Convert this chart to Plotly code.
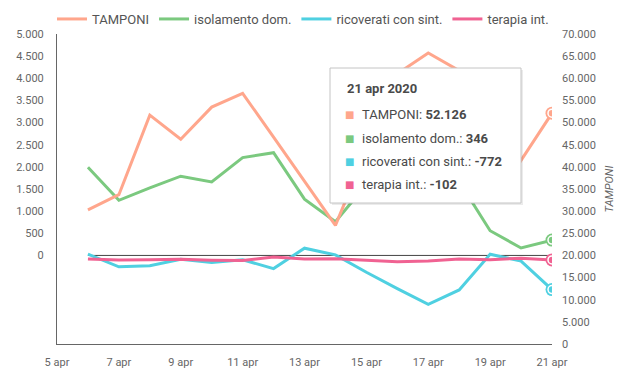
import plotly.graph_objects as go

dates = ["2020-04-%02d" % d for d in range(6, 22)]
tamponi = [30271, 33713, 51680, 46244, 53495, 56609, 46720, 36717, 26779, 43715, 60999, 65705, 61725, 50708, 41483, 52126]
isolamento = [1993, 1244, 1527, 1789, 1661, 2210, 2319, 1270, 761, 1602, 2082, 1586, 1667, 558, 169, 346]
ricoverati = [27, -258, -233, -86, -157, -98, -297, 164, 12, -380, -750, -1107, -779, 26, -127, -772]
terapia = [-79, -106, -99, -88, -108, -116, -38, -83, -74, -107, -143, -124, -79, -98, -62, -102]

series_names = ["TAMPONI", "isolamento dom.", "ricoverati con sint.", "terapia int."]
colors = ["#ffa68c", "#7bc97f", "#4fd0e1", "#f06292"]

x_tickvals = ["2020-04-%02d" % d for d in range(5, 22, 2)]
x_ticktext = ["%d apr" % d for d in range(5, 22, 2)]
left_tickvals = list(range(0, 5001, 500))
left_ticktext = ["{:,}".format(v).replace(",", ".") for v in left_tickvals]
right_tickvals = list(range(0, 70001, 5000))
right_ticktext = ["{:,}".format(v).replace(",", ".") for v in right_tickvals]

tooltip_title = "21 apr 2020"

W, H = 628, 380
L, R, T, B = 57, 76, 34, 36
PW, PH = W - L - R, H - T - B

def px(x):
    return (x - L) / PW

def py(y):
    return (H - B - y) / PH

fig = go.Figure()
data = [tamponi, isolamento, ricoverati, terapia]
axes = ["y2", "y", "y", "y"]
for name, vals, col, ax in zip(series_names, data, colors, axes):
    fig.add_trace(go.Scatter(x=dates, y=vals, name=name, mode="lines",
                             line=dict(color=col, width=3), yaxis=ax, hoverinfo="skip"))

# zero line of the left axis
fig.add_shape(type="line", xref="x", yref="y", x0=dates[0], x1=dates[-1], y0=0, y1=0,
              line=dict(color="#444444", width=1), layer="below")

# end markers (hover state)
for vals, col, ax in zip(data, colors, axes):
    fig.add_trace(go.Scatter(x=[dates[-1]], y=[vals[-1]], mode="markers", yaxis=ax,
                             marker=dict(size=13, color=col), showlegend=False, hoverinfo="skip"))
    fig.add_trace(go.Scatter(x=[dates[-1]], y=[vals[-1]], mode="markers", yaxis=ax,
                             marker=dict(size=8, color=col, line=dict(color="white", width=1.5)),
                             showlegend=False, hoverinfo="skip"))

# tooltip box
fig.add_shape(type="rect", xref="paper", yref="paper", x0=px(332), x1=px(523), y0=py(70), y1=py(205),
              line=dict(width=0), fillcolor="rgba(0,0,0,0.08)")
fig.add_shape(type="rect", xref="paper", yref="paper", x0=px(330), x1=px(521), y0=py(68), y1=py(203),
              line=dict(color="#c4c4c4", width=1), fillcolor="white")
fig.add_annotation(xref="paper", yref="paper", x=px(345), y=py(88), text="<b>" + tooltip_title + "</b>",
                   showarrow=False, xanchor="left", yanchor="middle",
                   font=dict(family="Roboto", size=13, color="#4a4a4a"))
for i, (name, vals, col) in enumerate(zip(series_names, data, colors)):
    yy = 115 + 23 * i
    fig.add_annotation(xref="paper", yref="paper", x=px(343), y=py(yy), text="■",
                       showarrow=False, xanchor="left", yanchor="middle",
                       font=dict(family="DejaVu Sans", size=10, color=col))
    val = "{:,}".format(vals[-1]).replace(",", ".")
    fig.add_annotation(xref="paper", yref="paper", x=px(360), y=py(yy),
                       text=name + ": <b>" + val + "</b>",
                       showarrow=False, xanchor="left", yanchor="middle",
                       font=dict(family="Roboto", size=13, color="#4a4a4a"))

fig.update_layout(
    width=W, height=H,
    margin=dict(l=L, r=R, t=T, b=B, pad=0, autoexpand=False),
    paper_bgcolor="white", plot_bgcolor="white",
    separators=",.",
    font=dict(family="Roboto", color="#666666", size=11),
    hovermode=False,
    legend=dict(orientation="h", x=px(52), y=py(4), xanchor="left", yanchor="top",
                font=dict(family="Roboto", size=13, color="#555555"), itemwidth=30,
                tracegroupgap=0, bgcolor="rgba(0,0,0,0)"),
    xaxis=dict(type="date", range=["2020-04-05", "2020-04-21"], tickvals=x_tickvals, ticktext=x_ticktext,
               showgrid=False, zeroline=False, showline=True, linecolor="#666666", linewidth=1,
               ticks="", ticklabelstandoff=8, tickfont=dict(size=11, color="#666666"), automargin=False),
    yaxis=dict(range=[-2000, 5000], tickvals=left_tickvals, ticktext=left_ticktext,
               showgrid=False, zeroline=False, showline=True, linecolor="#666666", linewidth=1,
               ticks="", ticklabelstandoff=10, tickfont=dict(size=11, color="#666666"), automargin=False),
    yaxis2=dict(range=[0, 70000], tickvals=right_tickvals, ticktext=right_ticktext,
                overlaying="y", side="right", showgrid=False, zeroline=False, showline=False,
                ticks="", ticklabelstandoff=9, tickfont=dict(size=11, color="#666666"), automargin=False,
                title=dict(text="<i>TAMPONI</i>", font=dict(size=11, color="#666666"), standoff=10)),
)

fig.write_html("out.html", config={"displayModeBar": False},
               post_script="document.body.style.margin='0';")
